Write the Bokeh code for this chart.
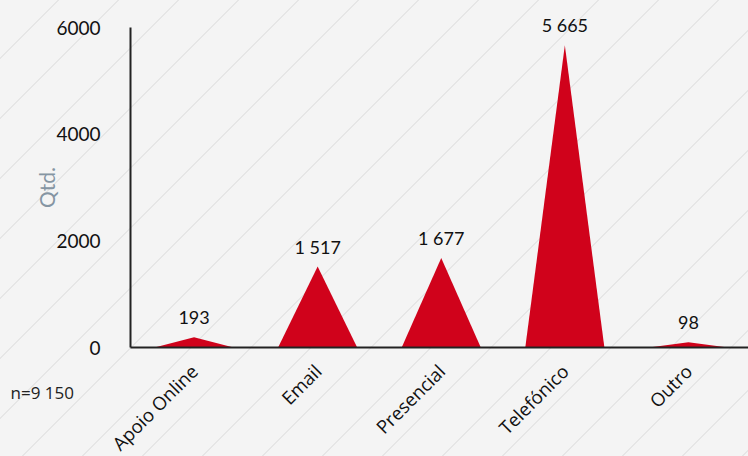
import math
from bokeh.plotting import figure
from bokeh.models import Range1d, FixedTicker, ColumnDataSource, LabelSet, Label
from bokeh.core.properties import value
from bokeh.embed import file_html
from bokeh.resources import INLINE

categories = ["Apoio Online", "Email", "Presencial", "Telefónico", "Outro"]
counts = [193, 1517, 1677, 5665, 98]
count_labels = ["193", "1 517", "1 677", "5 665", "98"]
y_ticks = [0, 2000, 4000, 6000]
note_text = "n=9 150"
y_title = "Qtd."

RED = "#d0021b"
half_w = 0.32
X_LEFT = -0.514          # left edge of the category axis
X_RIGHT = 4.486

positions = list(range(len(categories)))
xs = [[i - half_w, i, i + half_w] for i in positions]
ys = [[0, v, 0] for v in counts]

p = figure(width=748, height=456, output_backend="svg", toolbar_location=None,
           x_range=Range1d(-1.566, X_RIGHT), y_range=Range1d(-2043.75, 6506.25),
           min_border=0)
p.background_fill_alpha = 0
p.border_fill_alpha = 0
p.outline_line_color = None
p.xgrid.visible = False
p.ygrid.visible = False

p.patches(xs=xs, ys=ys, fill_color=RED, line_color=None)

src = ColumnDataSource(dict(x=positions, y=counts, t=count_labels))
labels = LabelSet(x="x", y="y", text="t", source=src, text_align="center",
                  text_baseline="middle", y_offset=20, text_font=value("Lato"),
                  text_font_size="18px", text_color="#111111")
p.add_layout(labels)

# axes
xa = p.xaxis[0]
xa.fixed_location = 0
xa.bounds = (X_LEFT, X_RIGHT)
xa.ticker = FixedTicker(ticks=positions)
xa.major_label_overrides = {i: c for i, c in zip(positions, categories)}
xa.major_label_orientation = math.pi / 4
xa.major_label_text_font = "Open Sans"
xa.major_label_text_font_size = "18.5px"
xa.major_label_text_color = "#111111"
xa.major_tick_line_color = None
xa.minor_tick_line_color = None
xa.major_tick_out = 0
xa.major_tick_in = 0
xa.major_label_standoff = 20
xa.axis_line_color = "#222222"
xa.axis_line_width = 2

ya = p.yaxis[0]
ya.fixed_location = X_LEFT
ya.bounds = (0, 6000)
ya.ticker = FixedTicker(ticks=y_ticks)
ya.major_label_text_font = "Lato"
ya.major_label_text_font_size = "19px"
ya.major_label_text_color = "#111111"
ya.major_tick_line_color = None
ya.minor_tick_line_color = None
ya.major_tick_out = 0
ya.major_tick_in = 0
ya.major_label_standoff = 30
ya.axis_line_color = "#222222"
ya.axis_line_width = 2

qtd = Label(x=-1.19, y=3000, text=y_title, angle=math.pi / 2, text_align="center",
            text_baseline="middle", text_font="Lato", text_font_size="21px",
            text_color="#8595a3")
p.add_layout(qtd)

note = Label(x=-1.485, y=-844, text=note_text, text_align="left", text_baseline="middle",
             text_font="Open Sans", text_font_size="17px", text_color="#222222")
p.add_layout(note)

html = file_html(p, INLINE)
style = ("<style>html,body{background-color:#f4f4f4;"
         "background-image:repeating-linear-gradient(135deg, transparent 0px, transparent 40.9px, "
         "#e6e6e6 40.9px, #e6e6e6 42.4px);}</style>")
html = html.replace("<head>", "<head>" + style, 1)
open("out.html", "w").write(html)
